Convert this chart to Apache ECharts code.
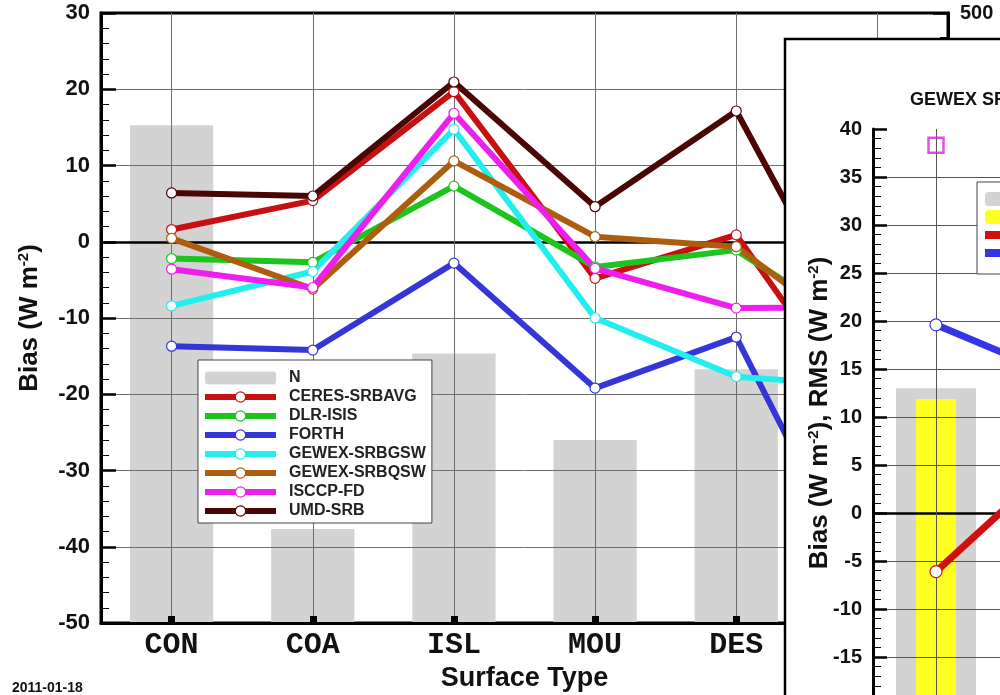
<!DOCTYPE html>
<html><head><meta charset="utf-8">
<script src="https://cdn.jsdelivr.net/npm/echarts@6/dist/echarts.min.js"></script>
<style>html,body{margin:0;padding:0;background:#fff;width:1000px;height:695px;overflow:hidden}#c{width:1500px;height:1100px}</style>
</head><body><div id="c"></div>
<script>
// ---- main chart data ----
const categories = ['CON', 'COA', 'ISL', 'MOU', 'DES', 'SNO'];
const nSites = [408, 77, 221, 150, 208, 120];
const ceres  = [1.6, 5.4, 19.7, -4.8, 0.9, -25.2];
const dlr    = [-2.2, -2.7, 7.3, -3.3, -1.1, -13.0];
const forth  = [-13.7, -14.2, -2.8, -19.2, -12.5, -49.0];
const gewexGsw = [-8.4, -3.9, 14.75, -10.0, -17.7, -19.0];
const gewexQsw = [0.45, -6.2, 10.6, 0.66, -0.65, -14.6];
const isccp  = [-3.6, -6.0, 16.85, -3.5, -8.7, -8.6];
const umd    = [6.4, 6.0, 20.95, 4.6, 17.15, -17.1];
const seriesNames = ['CERES-SRBAVG','DLR-ISIS','FORTH','GEWEX-SRBGSW','GEWEX-SRBQSW','ISCCP-FD','UMD-SRB'];
const seriesColors = ['#c81010','#1ec41e','#3535d8','#22eeee','#ad5d0e','#ee1eee','#4a0505'];
const seriesValues = [ceres, dlr, forth, gewexGsw, gewexQsw, isccp, umd];
const leftTicks = {min: -50, max: 30, interval: 10};
const rightTicks = {min: 0, max: 500, interval: 100};
// ---- inset data ----
const insetCategories = ['1', '2', '3', '4'];
const insetN = [132.5, null, null, null];
const insetNUsed = [129.7, null, null, null];
const insetBias = [-6.1, 5.9, null, null];
const insetRms = [19.6, 14.1, null, null];
const insetMax = [38.3, null, null, null];
const insetTicks = {min: -40, max: 40, interval: 5};
const insetNTicks = {min: 0, max: 200, interval: 50};

const F = 'Liberation Sans, Arial, sans-serif';
const chart = echarts.init(document.getElementById('c'), null, {renderer: 'canvas'});

// grid lines (drawn above the bars, below the data lines) from the axis ticks and categories
function gridMarkLines(ticks, cats, color, z) {
  const d = [];
  for (let v = ticks.min + ticks.interval; v < ticks.max; v += ticks.interval) {
    d.push(v === 0 ? {yAxis: v, lineStyle: {color: '#000', width: 2.5}} : {yAxis: v});
  }
  cats.forEach(c => d.push({xAxis: c}));
  return {silent: true, symbol: 'none', label: {show: false}, animation: false, z: z,
    lineStyle: {color: color, width: 1, type: 'solid'}, data: d};
}

const lineSeries = seriesNames.map((name, i) => ({
  name: name, type: 'line', xAxisIndex: 0, yAxisIndex: 0, data: seriesValues[i],
  z: 3, symbol: 'circle', symbolSize: 10,
  lineStyle: {color: seriesColors[i], width: 6},
  itemStyle: {color: '#fff', borderColor: seriesColors[i], borderWidth: 1.2},
  emphasis: {disabled: true}, animation: false
}));

const option = {
  animation: false,
  title: {text: '2011-01-18', left: 12, top: 681, padding: 0,
    textStyle: {fontFamily: F, fontWeight: 'bold', fontSize: 14, color: '#111'}},
  grid: [
    {left: 101, top: 13, width: 847, height: 610, show: true, borderColor: '#000', borderWidth: 3, backgroundColor: 'transparent'},
    {left: 873, top: 129, width: 504, height: 768, show: false}
  ],
  legend: [
    {data: ['N'].concat(seriesNames), orient: 'vertical', left: 198, top: 360,
     padding: [10, 6, 4, 4], itemWidth: 71, itemHeight: 13, itemGap: 3,
     backgroundColor: '#fff', borderColor: '#444', borderWidth: 1, z: 6,
     lineStyle: {width: 6}, itemStyle: {borderWidth: 1.2},
     textStyle: {fontFamily: F, fontWeight: 'bold', fontSize: 16, lineHeight: 14, color: '#222', padding: [0, 0, 0, 8]}},
    {data: ['N sites', 'N used', 'Bias', 'RMS'], orient: 'vertical', left: 977, top: 182,
     padding: [9, 6, 13, 4], itemWidth: 60, itemHeight: 14, itemGap: 2,
     backgroundColor: '#fff', borderColor: '#444', borderWidth: 1, z: 14,
     lineStyle: {width: 8},
     textStyle: {fontFamily: F, fontWeight: 'bold', fontSize: 16, lineHeight: 14, color: '#222'}}
  ],
  xAxis: [
    {type: 'category', gridIndex: 0, data: categories, z: 2,
     axisLine: {onZero: false, lineStyle: {color: '#000', width: 3}},
     axisTick: {show: false},
     axisLabel: {fontFamily: 'Liberation Mono, Courier New, monospace', fontWeight: 'bold', fontSize: 30, color: '#111', margin: 7},
     name: 'Surface Type', nameLocation: 'middle', nameGap: 40,
     nameTextStyle: {fontFamily: F, fontWeight: 'bold', fontSize: 27, color: '#111'}},
    {type: 'category', gridIndex: 0, data: categories, z: 4, position: 'bottom',
     axisLine: {show: false, onZero: false}, axisLabel: {show: false},
     axisTick: {show: true, alignWithLabel: true, inside: true, length: 7, lineStyle: {color: '#000', width: 7}}},
    {type: 'category', gridIndex: 1, data: insetCategories, z: 12,
     axisLine: {onZero: false, lineStyle: {color: '#000', width: 3}},
     axisTick: {show: false}, axisLabel: {show: false}},
    {type: 'category', gridIndex: 1, data: insetCategories, show: false, axisLine: {onZero: false}}
  ],
  yAxis: [
    {type: 'value', gridIndex: 0, min: leftTicks.min, max: leftTicks.max, interval: leftTicks.interval, z: 4,
     axisLine: {show: true, lineStyle: {color: '#000', width: 3}},
     axisTick: {show: true, inside: true, length: 15, lineStyle: {color: '#000', width: 2.5}},
     minorTick: {show: true, splitNumber: 5, length: 8, lineStyle: {color: '#000', width: 1}},
     splitLine: {show: false},
     axisLabel: {fontFamily: F, fontWeight: 'bold', fontSize: 22, color: '#111', margin: 11},
     name: '{a|Bias (W m}{s|-2}{a|)}', nameLocation: 'middle', nameGap: 58,
     nameTextStyle: {rich: {
       a: {fontFamily: F, fontWeight: 'bold', fontSize: 26, color: '#111'},
       s: {fontFamily: F, fontWeight: 'bold', fontSize: 15, color: '#111', verticalAlign: 'top', padding: [0, 0, 12, 0]}}}},
    {type: 'value', gridIndex: 0, position: 'right', min: rightTicks.min, max: rightTicks.max, interval: rightTicks.interval, z: 4,
     axisLine: {show: true, lineStyle: {color: '#000', width: 3}},
     axisTick: {show: true, inside: true, length: 15, lineStyle: {color: '#000', width: 2.5}},
     minorTick: {show: true, splitNumber: 5, length: 8, lineStyle: {color: '#000', width: 1}},
     splitLine: {show: false},
     axisLabel: {fontFamily: F, fontWeight: 'bold', fontSize: 20, color: '#111', margin: 12}},
    {type: 'value', gridIndex: 1, min: insetTicks.min, max: insetTicks.max, interval: insetTicks.interval, z: 12,
     axisLine: {show: true, lineStyle: {color: '#000', width: 3}},
     axisTick: {show: true, inside: true, length: 14, lineStyle: {color: '#000', width: 2.5}},
     minorTick: {show: true, splitNumber: 5, length: 8, lineStyle: {color: '#000', width: 1}},
     splitLine: {show: false},
     axisLabel: {fontFamily: F, fontWeight: 'bold', fontSize: 20, color: '#111', margin: 11}},
    {type: 'value', gridIndex: 1, position: 'right', min: insetNTicks.min, max: insetNTicks.max, interval: insetNTicks.interval, show: false}
  ],
  graphic: [
    {type: 'rect', z: 10, shape: {x: 785, y: 39, width: 600, height: 900},
     style: {fill: '#fff', stroke: '#000', lineWidth: 2.5}},
    {type: 'text', z: 15, x: 910, y: 100,
     style: {text: 'GEWEX SRB Bias and RMS', fontFamily: F, fontWeight: 'bold', fontSize: 18, fill: '#111', verticalAlign: 'middle'}},
    {type: 'text', z: 15, x: 820, y: 413, rotation: Math.PI / 2,
     style: {text: '{a|Bias (W m}{s|-2}{a|), RMS (W m}{s|-2}{a|)}', align: 'center', verticalAlign: 'middle',
       rich: {a: {fontFamily: F, fontWeight: 'bold', fontSize: 26, fill: '#111'},
              s: {fontFamily: F, fontWeight: 'bold', fontSize: 15, fill: '#111', verticalAlign: 'top', padding: [0, 0, 12, 0]}}}}
  ],
  series: [
    {name: 'N', type: 'bar', xAxisIndex: 0, yAxisIndex: 1, data: nSites, z: 1,
     barCategoryGap: '41%', itemStyle: {color: '#d3d3d3'}, emphasis: {disabled: true}},
    {name: 'mainGrid', type: 'line', xAxisIndex: 0, yAxisIndex: 0, data: categories.map(() => null), z: 2,
     showSymbol: false, lineStyle: {width: 0}, markLine: gridMarkLines(leftTicks, categories, '#6e6e6e', 2)}
  ].concat(lineSeries).concat([
    {name: 'N sites', type: 'bar', xAxisIndex: 2, yAxisIndex: 3, data: insetN, z: 11,
     barWidth: 80, itemStyle: {color: '#d3d3d3'}, emphasis: {disabled: true}},
    {name: 'N used', type: 'bar', xAxisIndex: 3, yAxisIndex: 3, data: insetNUsed, z: 11,
     barWidth: 40, itemStyle: {color: '#ffff22'}, emphasis: {disabled: true}},
    {name: 'insetGrid', type: 'line', xAxisIndex: 2, yAxisIndex: 2, data: insetCategories.map(() => null), z: 12,
     showSymbol: false, lineStyle: {width: 0}, markLine: gridMarkLines(insetTicks, insetCategories, '#555', 12)},
    {name: 'Bias', type: 'line', xAxisIndex: 2, yAxisIndex: 2, data: insetBias, z: 13,
     symbol: 'circle', symbolSize: 12, lineStyle: {color: '#d01010', width: 7},
     itemStyle: {color: '#fff', borderColor: '#d01010', borderWidth: 1.2}, emphasis: {disabled: true}},
    {name: 'RMS', type: 'line', xAxisIndex: 2, yAxisIndex: 2, data: insetRms, z: 13,
     symbol: 'circle', symbolSize: 12, lineStyle: {color: '#3535e8', width: 7},
     itemStyle: {color: '#fff', borderColor: '#3535e8', borderWidth: 1.2}, emphasis: {disabled: true}},
    {name: 'Max', type: 'scatter', xAxisIndex: 2, yAxisIndex: 2, data: insetMax, z: 13,
     symbol: 'rect', symbolSize: 15, itemStyle: {color: 'transparent', borderColor: '#dd22dd', borderWidth: 2.5},
     emphasis: {disabled: true}}
  ])
};
chart.setOption(option);
</script></body></html>
